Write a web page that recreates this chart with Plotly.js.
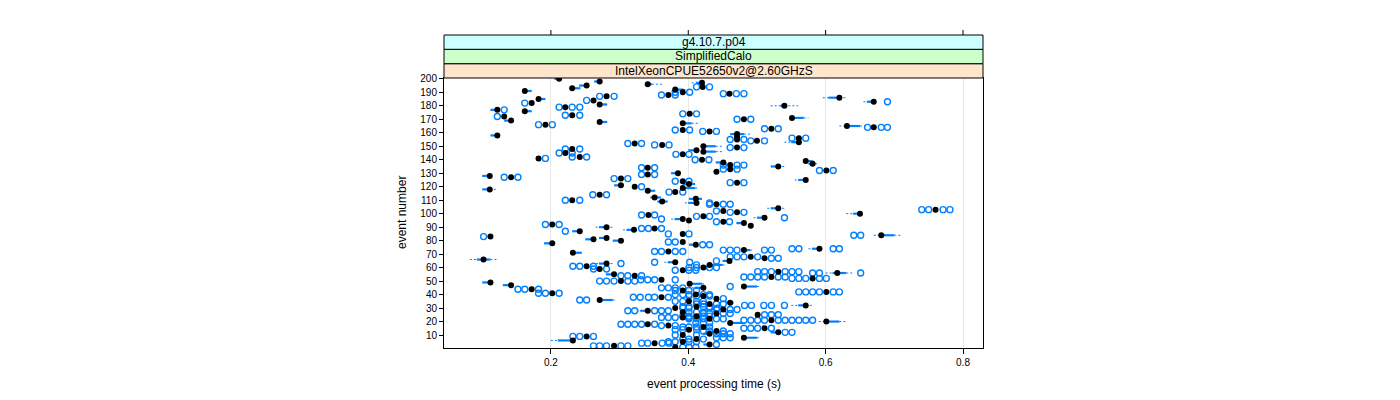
<!DOCTYPE html>
<html>
<head>
<meta charset="utf-8">
<script src="https://cdn.plot.ly/plotly-3.0.1.min.js"></script>
<style>
html,body{margin:0;padding:0;background:#fff;}
#chart{width:1400px;height:400px;}
</style>
</head>
<body>
<div id="chart"></div>
<script>
// ---------------- data ----------------
const stripLabels = ["IntelXeonCPUE52650v2@2.60GHzS", "SimplifiedCalo", "g4.10.7.p04"];
const xTickValues = [0.2, 0.4, 0.6, 0.8];
const xTickLabels = ["0.2", "0.4", "0.6", "0.8"];
const yTickValues = [10,20,30,40,50,60,70,80,90,100,110,120,130,140,150,160,170,180,190,200];
const yTickLabels = yTickValues.map(String);

const eventNumber = [
 200,198,197,196,195,194,193,192,191,190,
 189,188,187,186,185,184,183,182,181,180,
 179,177,176,174,173,172,171,170,169,168,
 167,166,165,164,163,162,161,159,158,157,
 156,155,154,153,152,151,150,149,148,147,
 146,145,144,142,141,140,139,138,137,136,
 135,134,133,132,131,130,129,128,127,126,
 125,124,123,122,121,120,119,118,117,116,
 114,112,111,110,109,108,107,104,103,102,
 101,100,99,98,97,96,95,94,93,92,
 91,90,89,88,87,85,84,83,82,81,
 80,79,78,77,74,73,72,71,68,67,
 66,65,64,63,62,61,59,57,56,55,
 54,53,52,51,50,49,48,47,46,45,
 44,42,41,40,38,37,36,34,32,30,
 28,25,23,21,20,19,18,17,15,12,
 11,10,9,8,6,4,3,2,1,
 60,58,43,39,35,33,31,29,27,26,
 24,22,16,14,13,7,5];
const medianTime = [
 .212,.271,.420,.341,.252,.421,.231,.381,.162,.392,
 .460,.371,.281,.620,.182,.262,.670,.172,.271,.540,
 .221,.122,.162,.402,.231,.132,.551,.481,.142,.271,
 .392,.192,.631,.670,.521,.392,.431,.471,.122,.471,
 .561,.471,.500,.561,.322,.362,.422,.471,.231,.412,
 .422,.221,.392,.242,.182,.420,.571,.451,.581,.461,
 .531,.341,.461,.601,.441,.385,.341,.111,.142,.302,
 .571,.392,.471,.401,.302,.322,.392,.111,.341,.381,
 .271,.351,.411,.231,.362,.412,.441,.531,.760,.451,
 .471,.650,.342,.422,.511,.392,.401,.451,.481,.202,
 .491,.281,.351,.321,.242,.392,.681,.112,.281,.262,
 .302,.392,.202,.411,.591,.481,.371,.232,.491,.511,
 .102,.460,.381,.281,.431,.252,.271,.531,.617,.292,
 .322,.521,.581,.361,.302,.112,.402,.142,.481,.422,
 .172,.601,.202,.411,.361,.441,.271,.461,.571,.381,
 .341,.501,.392,.521,.601,.461,.341,.371,.511,.531,
 .431,.392,.252,.481,.232,.351,.431,.292,.381,
 .422,.392,.392,.422,.401,.431,.412,.451,.392,.441,
 .412,.431,.422,.401,.441,.412,.392];
// box (lower / upper hinge); null = no visible box
const boxLow = [
 .205,.263,.411,.341,.241,null,.231,.381,.162,null,
 null,null,null,.604,.182,null,.660,null,.271,.534,
 null,.112,.162,null,null,null,.551,null,.132,.271,
 .392,null,.631,null,null,null,null,.461,.112,null,
 null,null,null,.550,null,null,.422,null,null,.400,
 .422,null,null,null,null,null,.571,.440,.575,null,
 .520,null,null,null,null,.375,null,.100,null,null,
 .560,null,null,.392,.292,null,.392,.100,.341,null,
 null,.345,.401,null,.355,.400,null,.520,null,null,
 null,.640,null,null,.500,.380,null,null,.470,null,
 null,.270,null,.310,.231,null,.680,null,.270,.250,
 .290,null,.190,.401,.580,.481,null,.232,null,null,
 .092,.450,.370,.270,.431,null,null,null,.610,.280,
 null,null,null,null,null,.100,.402,.130,.481,.410,
 null,null,null,null,null,null,.271,.455,.560,null,
 .330,null,null,null,.601,.461,null,null,null,.520,
 .422,null,null,.481,.210,null,.422,null,null,
 null,null,null,null,null,null,null,null,null,null,
 null,null,null,null,null,null,null];
const boxHigh = [
 .212,.271,.420,.347,.252,null,.243,.393,.172,null,
 null,null,null,.620,.192,null,.670,null,.282,.540,
 null,.122,.172,null,null,null,.568,null,.142,.282,
 .405,null,.650,null,null,null,null,.481,.122,null,
 null,null,null,.561,null,null,.440,null,null,.412,
 .440,null,null,null,null,null,.580,.451,.585,null,
 .531,null,null,null,null,.385,null,.111,null,null,
 .571,null,null,.410,.302,null,.410,.111,.352,null,
 null,.360,.420,null,.370,.412,null,.531,null,null,
 null,.650,null,null,.511,.392,null,null,.481,null,
 null,.281,null,.321,.242,null,.700,null,.281,.262,
 .302,null,.202,.411,.591,.490,null,.245,null,null,
 .112,.460,.381,.281,.450,null,null,null,.630,.292,
 null,null,null,null,null,.112,.420,.142,.500,.422,
 null,null,null,null,null,null,.290,.466,.571,null,
 .341,null,null,null,.620,.480,null,null,null,.531,
 .431,null,null,.500,.232,null,.431,null,null,
 null,null,null,null,null,null,null,null,null,null,
 null,null,null,null,null,null,null];
const whiskerLow = [
 .205,.263,.405,.341,.241,null,.231,.381,.162,null,
 null,null,null,.596,.182,null,.655,null,.271,.520,
 null,.112,.162,null,null,null,.551,null,.132,.271,
 .392,null,.620,null,null,null,null,.461,.112,null,
 null,null,null,.540,null,null,.422,null,null,.400,
 .422,null,null,null,null,null,.571,.440,.575,null,
 .520,null,null,null,null,.375,null,.100,null,null,
 .555,null,null,.392,.292,null,.392,.100,.341,null,
 null,.345,.401,null,.355,.395,null,.515,null,null,
 null,.630,null,null,.495,.375,null,null,.470,null,
 null,.265,null,.305,.231,null,.670,null,.270,.250,
 .290,null,.190,.401,.575,.481,null,.232,null,null,
 .082,.450,.365,.260,.431,null,null,null,.600,.280,
 null,null,null,null,null,.100,.402,.130,.481,.405,
 null,null,null,null,null,null,.271,.455,.550,null,
 .325,null,null,null,.590,.461,null,null,null,.520,
 .422,null,null,.481,.200,null,.422,null,null,
 null,null,null,null,null,null,null,null,null,null,
 null,null,null,null,null,null,null];
const whiskerHigh = [
 .212,.271,.425,.362,.252,null,.243,.400,.172,null,
 null,null,null,.631,.192,null,.675,null,.282,.560,
 null,.122,.172,null,null,null,.575,null,.142,.282,
 .415,null,.660,null,null,null,null,.490,.122,null,
 null,null,null,.561,null,null,.450,null,null,.412,
 .450,null,null,null,null,null,.585,.451,.590,null,
 .540,null,null,null,null,.385,null,.111,null,null,
 .571,null,null,.410,.302,null,.415,.120,.352,null,
 null,.360,.420,null,.370,.412,null,.540,null,null,
 null,.655,null,null,.511,.392,null,null,.481,null,
 null,.290,null,.321,.242,null,.710,null,.281,.262,
 .302,null,.202,.411,.595,.495,null,.245,null,null,
 .122,.460,.381,.290,.455,null,null,null,.640,.292,
 null,null,null,null,null,.112,.425,.142,.505,.422,
 null,null,null,null,null,null,.295,.466,.580,null,
 .341,null,null,null,.630,.485,null,null,null,.531,
 .431,null,null,.505,.232,null,.431,null,null,
 null,null,null,null,null,null,null,null,null,null,
 null,null,null,null,null,null,null];

// outlying runs (open circles)
const outlierEvent = [
 194,194, 190,190, 189,189,189, 188,188, 187,187, 184, 183, 182, 179,179,179, 177,
 174,174, 173,173, 172, 170,170, 166,166, 164,164,164, 163,163, 162,162, 161,161,
 156,156, 155,155, 154,154, 152,152, 151,151, 149,149, 148,148, 145,145, 144,144,
 142,142, 141, 140,140, 136,136,136, 134,134, 133,133, 132,132, 129,129, 127,127,
 126,126, 124,124, 123,123, 120, 116,116, 114,114, 110,110, 108, 107,107,107,
 103,103,103,103, 102, 101,101, 99,99, 98,98, 97, 96, 94,94, 92,92,
 89,89,89, 87, 85,85, 84,84, 83, 79,79, 77,77, 74,74,74,74,
 73,73,73,73,73, 72,72,72,72, 68,68,68,68, 67,67, 65, 64,64, 63, 62,
 61,61,61, 59,59, 57,57,57,57,57,57, 56,56,56,
 54,54,54, 53,53,53,53,53,53, 52,52,52,52,52, 51,51,51,51, 50,50,50,50,50,
 46, 45,45,45,45, 44,44,44, 42,42,42,42,42,42, 41,41,41, 40,40,40,40,40,
 38,38,38,38,38, 37, 36,36, 32,32,32,32,32, 30,30,30,30, 28,28,28,28,28,
 25,25,25, 23,23,23,23,23, 21,21,21,21,21,21,21,21,21,21, 19,19,19,
 18,18,18,18,18, 17,17, 15,15,15,15, 12,12, 11,11,11, 10,10, 9,9,9, 8,8,8,
 4,4,4,4, 3, 2,2,2,2,2, 1,1,1,
 60,60,60,60, 58,58,58, 43,43,43, 39,39,39, 35,35,35,35, 33,33,33,33,
 31,31,31,31, 29,29,29, 27,27,27, 26,26,26,26, 24,24,24,24, 22,22,22,22,22,
 16,16,16,16, 14,14,14, 13,13,13, 7,7,7, 5,5,5,5];
const outlierTime = [
 .412,.431, .381,.402, .451,.470,.481, .361,.381, .271,.292, .252, .690, .162, .212,.231,.242, .132,
 .392,.412, .221,.242, .122, .471,.491, .182,.202, .661,.681,.690, .511,.531, .381,.402, .421,.441,
 .551,.571, .461,.481, .491,.511, .312,.332, .351,.372, .461,.481, .221,.242, .212,.231, .382,.401,
 .231,.252, .192, .410,.430, .451,.471,.481, .332,.351, .451,.471, .591,.611, .332,.351, .132,.152,
 .292,.312, .381,.401, .461,.481, .332, .372,.392, .261,.281, .221,.242, .431, .431,.451,.461,
 .740,.750,.771,.781, .441, .461,.481, .332,.351, .412,.431, .540, .361, .441,.460, .192,.212,
 .332,.342,.361, .221, .371,.401, .641,.651, .102, .371,.381, .421,.431, .551,.561,.611,.620,
 .451,.461,.471,.511,.521, .351,.361,.381,.392, .461,.471,.481,.501, .521,.531, .441, .351,.402, .302, .412,
 .232,.242,.262, .262,.281, .501,.511,.521,.541,.551,.561, .581,.591,.651,
 .302,.312,.332, .481,.491,.501,.511,.531,.541, .551,.561,.571,.591,.601, .331,.341,.351,.381, .271,.281,.292,.312,.322,
 .461, .361,.371,.381,.392, .152,.162,.182, .561,.571,.581,.591,.611,.620, .182,.192,.212, .381,.392,.401,.422,.431,
 .320,.330,.342,.351,.371, .451, .242,.252, .482,.492,.510,.521,.540, .392,.401,.431,.442, .312,.322,.351,.361,.371,
 .511,.521,.531, .361,.371,.381,.401,.412, .481,.491,.501,.511,.531,.541,.551,.561,.571,.581, .411,.422,.431,
 .302,.312,.322,.332,.351, .361,.381, .481,.491,.501,.521, .541,.551, .441,.451,.461, .381,.412, .232,.242,.262, .441,.451,.461,
 .332,.341,.362,.372, .441, .262,.271,.281,.302,.312, .392,.401,.411,
 .401,.412,.431,.441, .381,.401,.411, .381,.401,.412, .401,.412,.431, .381,.392,.412,.422, .412,.422,.441,.451,
 .392,.401,.422,.431, .441,.461,.471, .401,.412,.422, .422,.431,.451,.461, .392,.401,.422,.431, .401,.412,.422,.441,.451,
 .392,.401,.412,.431, .381,.392,.412, .422,.431,.451, .392,.401,.422, .371,.381,.401,.412];

// ---------------- build traces ----------------
const blue = "#0080ff";
const boxX = [], boxY = [], whiskX = [], whiskY = [];
for (let i = 0; i < eventNumber.length; i++) {
  if (boxLow[i] === null) continue;
  const ev = eventNumber[i];
  if (boxHigh[i] > boxLow[i]) { boxX.push(boxLow[i], boxHigh[i], null); boxY.push(ev, ev, null); }
  if (whiskerLow[i] < boxLow[i]) { whiskX.push(whiskerLow[i], boxLow[i], null); whiskY.push(ev, ev, null); }
  if (whiskerHigh[i] > boxHigh[i]) { whiskX.push(boxHigh[i], whiskerHigh[i], null); whiskY.push(ev, ev, null); }
}

const traces = [
  { type: "scatter", mode: "lines", x: whiskX, y: whiskY, hoverinfo: "skip",
    line: { color: blue, width: 1, dash: "2px,2px" }, showlegend: false },
  { type: "scatter", mode: "lines", x: boxX, y: boxY, hoverinfo: "skip",
    line: { color: blue, width: 2.2 }, showlegend: false },
  { type: "scatter", mode: "markers", x: outlierTime, y: outlierEvent,
    marker: { symbol: "circle-open", size: 6, color: blue, line: { color: blue, width: 1.4 } }, showlegend: false },
  { type: "scatter", mode: "markers", x: medianTime, y: eventNumber,
    marker: { symbol: "circle", size: 6, color: "#000000" }, showlegend: false }
];

// ---------------- layout ----------------
const L = 444, R = 983, T = 78, B = 348, W = 1400, H = 400;
const plotH = B - T;
const py = p => (B - p) / plotH;            // pixel row -> paper y
const stripEdges = [78, 63.7, 49.3, 35];    // panel top, then strip borders
const stripColors = ["#ffe5cc", "#ccffcc", "#ccffff"];
const font = "Liberation Sans, Arial, Helvetica, sans-serif";

const shapes = [];
const annotations = [];
stripLabels.forEach((lab, k) => {
  const y0 = py(stripEdges[k]), y1 = py(stripEdges[k + 1]);
  shapes.push({ type: "rect", xref: "paper", yref: "paper", x0: 0, x1: 1, y0: y0, y1: y1,
    fillcolor: stripColors[k], line: { color: "#000", width: 1 }, layer: "above" });
  annotations.push({ xref: "paper", yref: "paper", x: 0.5, y: (y0 + y1) / 2, text: lab,
    showarrow: false, xanchor: "center", yanchor: "middle", font: { family: font, size: 12, color: "#000" } });
});
// ticks above the strips
xTickValues.forEach(v => {
  shapes.push({ type: "line", xref: "x", yref: "paper", x0: v, x1: v, y0: py(35), y1: py(30),
    line: { color: "#000", width: 1 } });
});
annotations.push({ xref: "paper", yref: "paper", x: 0.5, y: py(384), text: "event processing time (s)",
  showarrow: false, xanchor: "center", yanchor: "middle", font: { family: font, size: 12, color: "#000" } });
annotations.push({ xref: "paper", yref: "paper", x: (402 - L) / (R - L), y: 0.5, text: "event number",
  textangle: -90, showarrow: false, xanchor: "center", yanchor: "middle", font: { family: font, size: 12, color: "#000" } });

const layout = {
  width: W, height: H,
  margin: { l: L, r: W - R, t: T, b: H - B, pad: 0 },
  paper_bgcolor: "#fff", plot_bgcolor: "#fff",
  font: { family: font, size: 10, color: "#000" },
  showlegend: false,
  xaxis: {
    range: [0.04436, 0.8291], tickvals: xTickValues, ticktext: xTickLabels,
    ticks: "outside", ticklen: 5, tickcolor: "#000", tickfont: { family: font, size: 10, color: "#000" },
    showgrid: true, gridcolor: "#e6e6e6", gridwidth: 1, zeroline: false,
    showline: true, linecolor: "#000", linewidth: 1, mirror: true, automargin: false
  },
  yaxis: {
    range: [0.4, 200.6], tickvals: yTickValues, ticktext: yTickLabels,
    ticks: "outside", ticklen: 4, tickcolor: "#000", tickfont: { family: font, size: 10, color: "#000" },
    showgrid: false, zeroline: false,
    showline: true, linecolor: "#000", linewidth: 1, mirror: true, automargin: false
  },
  shapes: shapes,
  annotations: annotations
};

Plotly.newPlot("chart", traces, layout, { staticPlot: true, displayModeBar: false });
</script>
</body>
</html>
